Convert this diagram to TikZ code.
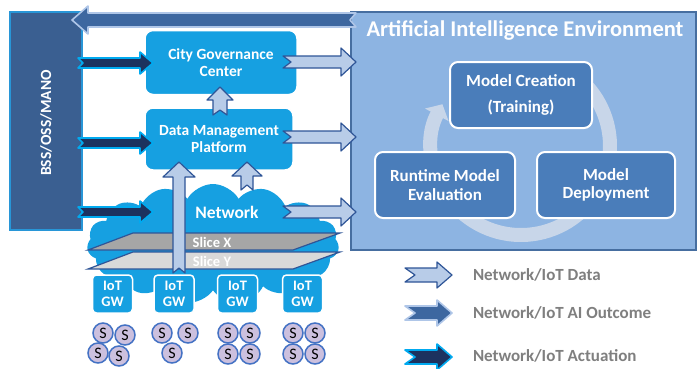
\documentclass[tikz,border=0pt]{standalone}
\usepackage{fontspec}
\setmainfont{Carlito}
\usetikzlibrary{calc,shapes.symbols,arrows.meta}
\definecolor{cybl}{RGB}{22,160,225}
\definecolor{bssfill}{RGB}{58,95,145}
\definecolor{bssline}{RGB}{40,150,215}
\definecolor{aifill}{RGB}{141,180,226}
\definecolor{ailine}{RGB}{70,110,160}
\definecolor{aibox}{RGB}{74,125,186}
\definecolor{ringcol}{RGB}{200,214,233}
\definecolor{datafill}{RGB}{184,204,232}
\definecolor{dataline}{RGB}{47,85,151}
\definecolor{outfill}{RGB}{61,103,160}
\definecolor{outline}{RGB}{175,198,232}
\definecolor{actfill}{RGB}{28,50,95}
\definecolor{actline}{RGB}{0,170,240}
\definecolor{sensfill}{RGB}{204,192,222}
\definecolor{sensline}{RGB}{68,114,196}
\definecolor{slicex}{RGB}{166,166,166}
\definecolor{slicey}{RGB}{217,217,217}
\definecolor{legtext}{RGB}{127,127,127}
\tikzset{
  blk/.style n args={4}{to path={
    let \p1=(\tikztostart), \p2=(\tikztotarget),
        \p3=($(\p2)!#3pt!(\p1)$), \p4=($(\p1)!#4pt!(\p2)$) in
    ($(\p1)!#1pt!90:(\p2)$) -- ($(\p3)!#1pt!-90:(\p1)$) -- ($(\p3)!#2pt!-90:(\p1)$)
    -- (\p2) -- ($(\p3)!#2pt!90:(\p1)$) -- ($(\p3)!#1pt!90:(\p1)$)
    -- ($(\p1)!#1pt!-90:(\p2)$) -- (\p4) -- cycle}},
  dataarrow/.style={fill=datafill, draw=dataline, line width=1.2pt, line join=round},
  outarrow/.style={fill=outfill, draw=outline, line width=1.6pt, line join=round},
  actarrow/.style={fill=actfill, draw=actline, line width=1.6pt, line join=round},
  cyanbox/.style={fill=cybl, draw=white, line width=1.5pt, rounded corners=8pt, text=white,
    font=\bfseries\fontsize{15.5}{17}\selectfont, align=center},
  gwbox/.style={fill=cybl, draw=white, line width=1.5pt, rounded corners=4pt, text=white,
    minimum width=40pt, minimum height=38pt, font=\bfseries\fontsize{14.5}{15.5}\selectfont, align=center},
  aibx/.style={fill=aibox, draw=white, line width=2pt, rounded corners=8pt, text=white,
    font=\bfseries\fontsize{17}{26}\selectfont, align=center},
  sensor/.style={circle, fill=sensfill, draw=sensline, line width=1.5pt, minimum size=20pt,
    font=\fontsize{16}{16}\selectfont},
  slicelbl/.style={text=white, font=\bfseries\fontsize{14.5}{15}\selectfont},
  legtxt/.style={anchor=west, text=legtext, font=\bfseries\fontsize{17}{18}\selectfont},
}
\begin{document}
\begin{tikzpicture}[x=1pt,y=1pt, every node/.style={inner sep=0pt, outer sep=0pt}]
\useasboundingbox (0,0) rectangle (697,368);
\fill[white] (0,0) rectangle (697,368);

% AI environment
\node[fill=aifill, draw=ailine, line width=2pt, minimum width=345pt, minimum height=238pt] (aienv) at (523.5,237) {};
\node[text=white, font=\bfseries\fontsize{22.5}{23}\selectfont] (aititle) at (525,338) {Artificial Intelligence Environment};
\coordinate (ringc) at (521,222);
\draw[ringcol, line width=14pt, -{Triangle[width=26pt,length=12pt]}]
  ($(ringc)+(60:89pt)$) arc[start angle=60, end angle=-208, radius=89pt];
\node[aibx, minimum width=142pt, minimum height=66pt] (mc) at (521,273) {Model Creation\\(Training)};
\node[aibx, minimum width=140pt, minimum height=66pt, font=\bfseries\fontsize{17}{18.5}\selectfont] (rt) at (445,183) {Runtime Model\\Evaluation};
\node[aibx, minimum width=138pt, minimum height=66pt, font=\bfseries\fontsize{17}{18.5}\selectfont] (md) at (606,183) {Model\\Deployment};

% BSS bar
\node[fill=bssfill, draw=bssline, line width=2pt, minimum width=72pt, minimum height=218pt] (bss) at (46,247) {};
\node[rotate=90, text=white, font=\bfseries\fontsize{15.5}{16}\selectfont] (bsslbl) at (46,245) {BSS/OSS/MANO};

% Network cloud
\node[cloud, cloud puffs=15, cloud puff arc=120, aspect=2.1, fill=cybl, minimum width=252pt, minimum height=120pt] (net) at (213,124) {};
\node[text=white, font=\bfseries\fontsize{17.5}{18}\selectfont] (netlbl) at (227,156) {Network};

% slices
\draw[fill=slicex, draw=dataline, line width=1.2pt] (88,118) -- (133,135) -- (340,135) -- (293,118) -- cycle;
\node[slicelbl] (slx) at (212,126) {Slice X};
\draw[fill=slicey, draw=dataline, line width=1.2pt] (88,99) -- (133,116) -- (340,116) -- (293,99) -- cycle;
\node[slicelbl] (sly) at (212,107) {Slice Y};

% IoT gateways
\node[gwbox] (gw1) at (112.5,74) {IoT\\GW};
\node[gwbox] (gw2) at (174,74) {IoT\\GW};
\node[gwbox] (gw3) at (237.5,74) {IoT\\GW};
\node[gwbox] (gw4) at (302.5,74) {IoT\\GW};

% sensors
\node[sensor] (s11) at (103,35) {S};
\node[sensor] (s12) at (125,33) {S};
\node[sensor] (s13) at (98,15) {S};
\node[sensor] (s14) at (119,12) {S};
\node[sensor] (s21) at (162,35) {S};
\node[sensor] (s22) at (188,35) {S};
\node[sensor] (s23) at (172,15) {S};
\node[sensor] (s31) at (228,35) {S};
\node[sensor] (s32) at (250,35) {S};
\node[sensor] (s33) at (228,14) {S};
\node[sensor] (s34) at (250,14) {S};
\node[sensor] (s41) at (293,35) {S};
\node[sensor] (s42) at (315,35) {S};
\node[sensor] (s43) at (293,14) {S};
\node[sensor] (s44) at (315,14) {S};

% platform boxes
\node[cyanbox, minimum width=152pt, minimum height=64pt] (cgc) at (221,305.5) {City Governance\\Center};
\node[cyanbox, minimum width=148pt, minimum height=62pt] (dmp) at (219,229) {Data Management\\Platform};

% arrow end points
\coordinate (a1s) at (78,305);  \coordinate (a1e) at (153,305);
\coordinate (a2s) at (78,225);  \coordinate (a2e) at (153,225);
\coordinate (a3s) at (78,156);  \coordinate (a3e) at (153,156);
\coordinate (d1s) at (283,306); \coordinate (d1e) at (356,306);
\coordinate (d2s) at (283,231); \coordinate (d2e) at (356,231);
\coordinate (d3s) at (283,156); \coordinate (d3e) at (356,156);
\coordinate (u1s) at (220,253); \coordinate (u1e) at (220,281);
\coordinate (u2s) at (179,95);  \coordinate (u2e) at (179,206);
\coordinate (u3s) at (247,178); \coordinate (u3e) at (247,206);
\coordinate (ts) at (356,348);  \coordinate (te) at (72,348);

\draw[actarrow] (a1s) to[blk={5}{11}{13}{5}] (a1e);
\draw[actarrow] (a2s) to[blk={5}{11}{13}{5}] (a2e);
\draw[actarrow] (a3s) to[blk={5}{11}{13}{5}] (a3e);
\draw[dataarrow] (d1s) to[blk={6}{14}{15}{8}] (d1e);
\draw[dataarrow] (d2s) to[blk={6}{14}{15}{8}] (d2e);
\draw[dataarrow] (d3s) to[blk={6}{14}{15}{8}] (d3e);
\draw[dataarrow] (u1s) to[blk={7}{13}{13}{5}] (u1e);
\draw[dataarrow] (u2s) to[blk={6}{16}{15}{5}] (u2e);
\draw[dataarrow] (u3s) to[blk={6}{15}{14}{5}] (u3e);
\draw[outarrow] (ts) to[blk={7}{14}{16}{6}] (te);

% legend
\coordinate (l1s) at (405,93); \coordinate (l1e) at (452,93);
\coordinate (l2s) at (405,55); \coordinate (l2e) at (452,55);
\coordinate (l3s) at (405,11); \coordinate (l3e) at (452,11);
\draw[dataarrow] (l1s) to[blk={7}{13}{15}{10}] (l1e);
\draw[outarrow] (l2s) to[blk={7}{13}{15}{10}] (l2e);
\draw[actarrow] (l3s) to[blk={7}{13}{15}{10}] (l3e);
\node[legtxt] (lt1) at (473,93) {Network/IoT Data};
\node[legtxt] (lt2) at (473,55) {Network/IoT AI Outcome};
\node[legtxt] (lt3) at (473,12) {Network/IoT Actuation};
\end{tikzpicture}
\end{document}
